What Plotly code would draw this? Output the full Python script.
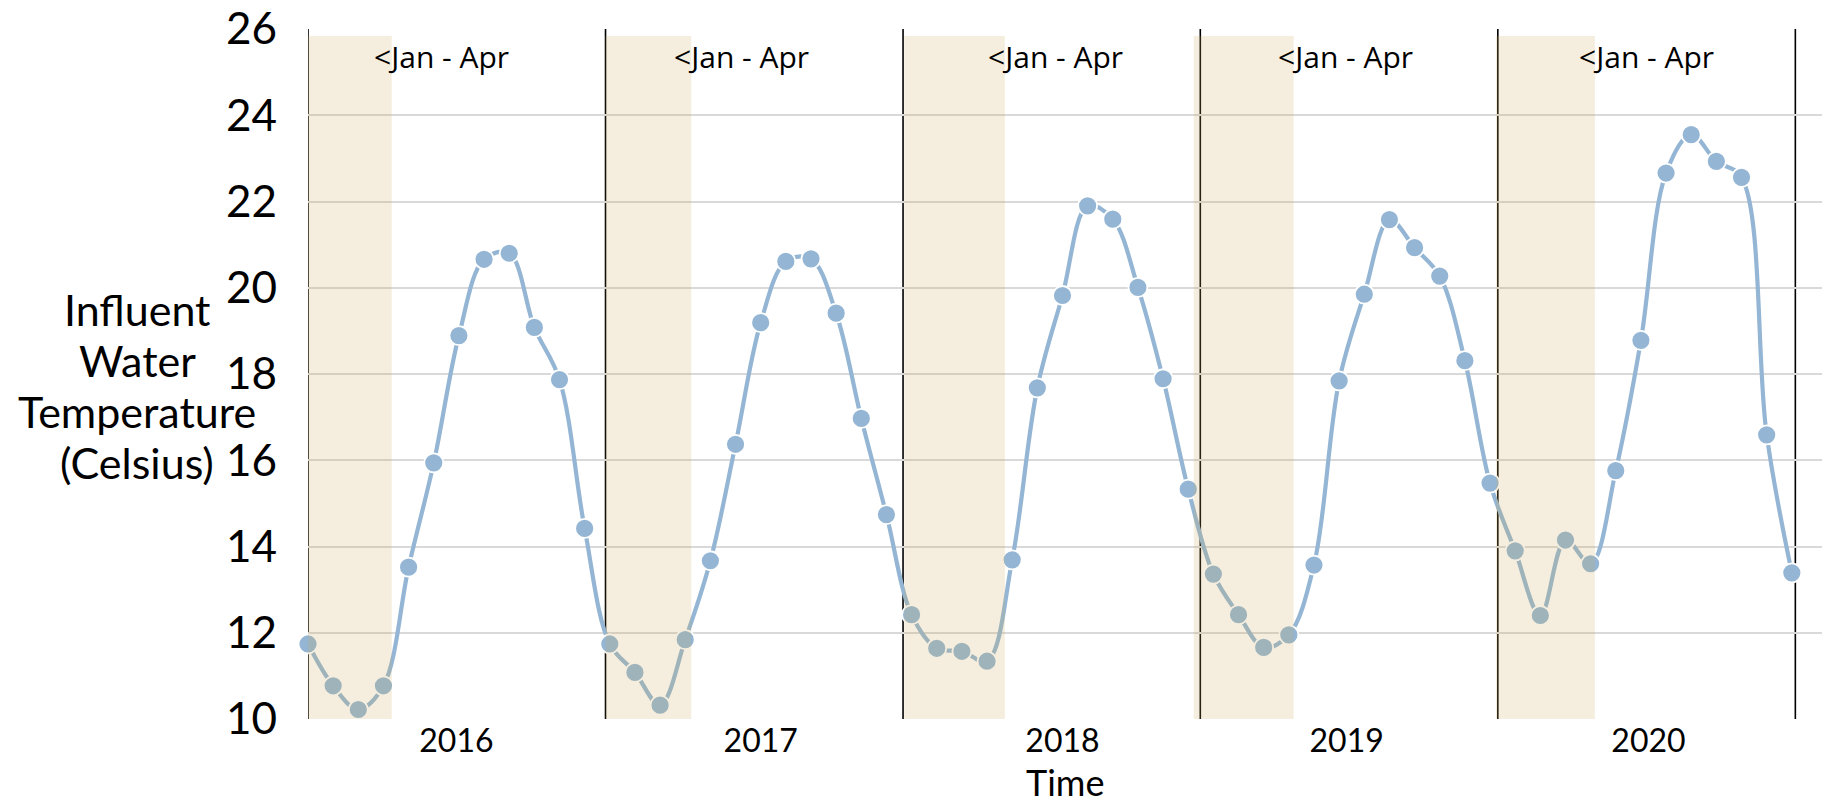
import plotly.graph_objects as go

years = ["2016", "2017", "2018", "2019", "2020"]
temp_2016 = [11.74, 10.77, 10.22, 10.77, 13.52, 15.94, 18.89, 20.66, 20.80, 19.08, 17.87, 14.42]
temp_2017 = [11.74, 11.08, 10.32, 11.84, 13.67, 16.37, 19.19, 20.61, 20.67, 19.41, 16.97, 14.74]
temp_2018 = [12.42, 11.64, 11.57, 11.34, 13.69, 17.68, 19.82, 21.90, 21.59, 20.01, 17.89, 15.33]
temp_2019 = [13.36, 12.42, 11.66, 11.95, 13.57, 17.84, 19.85, 21.58, 20.93, 20.27, 18.31, 15.47]
temp_2020 = [13.90, 12.40, 14.15, 13.60, 15.76, 18.78, 22.66, 23.55, 22.93, 22.56, 16.59, 13.39]
y_ticks = [10, 12, 14, 16, 18, 20, 22, 24, 26]
season_label = "&lt;Jan - Apr"
y_title_lines = ["Influent", "Water", "Temperature", "(Celsius)"]
x_title = "Time"

temps = temp_2016 + temp_2017 + temp_2018 + temp_2019 + temp_2020
x_idx = list(range(len(temps)))

# layout helpers (positions in month-index units)
year_lines = [0, 11.83, 23.66, 35.48, 47.31, 59.14]
shade_spans = [(0, 3.33), (11.83, 15.24), (23.71, 27.71), (35.22, 39.19), (47.24, 51.17)]
label_pos = [5.3, 17.24, 29.74, 41.26, 53.21]
year_tick_pos = [5.9, 18.0, 30.0, 41.3, 53.3]

BLUE = "#94B6D4"
FONT = "Lato"
L, R, T, B = 308, 0, 29, 84
W, H = 1822, 803
PW, PH = W - L - R, H - T - B

fig = go.Figure()
fig.add_trace(go.Scatter(
    x=x_idx, y=temps, mode="lines+markers",
    line=dict(color=BLUE, width=4.2, shape="spline", smoothing=1),
    marker=dict(color=BLUE, size=19, line=dict(color="white", width=1.8)),
    cliponaxis=False, showlegend=False,
))

shapes = []
for xl in year_lines:
    shapes.append(dict(type="line", xref="x", yref="y", x0=xl, x1=xl, y0=10, y1=26,
                       line=dict(color="black", width=1.6), layer="below"))
for (a, b) in shade_spans:
    shapes.append(dict(type="rect", xref="x", yref="y", x0=a, x1=b, y0=9.87, y1=25.84,
                       fillcolor="rgba(205,170,90,0.2)", line=dict(width=0), layer="above"))

annotations = []
for p in label_pos:
    annotations.append(dict(x=p, y=25.37, xref="x", yref="y", text=season_label,
                            showarrow=False, font=dict(family="Open Sans", size=30, color="black"),
                            xanchor="center", yanchor="middle"))
title_centers_px = [309, 360, 411, 462]
for txt, cy in zip(y_title_lines, title_centers_px):
    annotations.append(dict(x=(137 - L) / PW, y=(H - B - cy) / PH, xref="paper", yref="paper",
                            text=txt, showarrow=False,
                            font=dict(family=FONT, size=43, color="black"),
                            xanchor="center", yanchor="middle"))
annotations.append(dict(x=(1065 - L) / PW, y=0, xref="paper", yref="paper", text=x_title,
                        showarrow=False, font=dict(family=FONT, size=36, color="black"),
                        xanchor="center", yanchor="middle", yshift=-(782 - (H - B))))

fig.update_layout(
    width=W, height=H,
    margin=dict(l=L, r=R, t=T, b=B, autoexpand=False),
    plot_bgcolor="white", paper_bgcolor="white",
    shapes=shapes, annotations=annotations,
    xaxis=dict(range=[0, 60.2], showgrid=False, zeroline=False, showline=False,
               tickmode="array", tickvals=year_tick_pos, ticktext=years,
               tickfont=dict(family=FONT, size=32, color="black"), ticks="",
               automargin=False),
    yaxis=dict(range=[10, 26], showgrid=True, gridcolor="#D9D9D9", gridwidth=1.6,
               zeroline=False, showline=False, tickmode="array", tickvals=y_ticks,
               tickfont=dict(family=FONT, size=44, color="black"), ticks="",
               ticklabelstandoff=30, automargin=False),
)

fig.write_html("out.html", config={"displayModeBar": False},
               post_script="document.body.style.margin='0px';document.body.style.overflow='hidden';")
